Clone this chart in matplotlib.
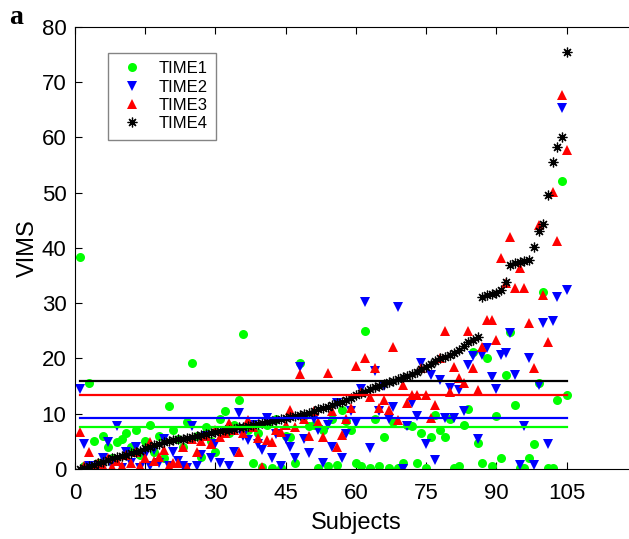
import numpy as np
import matplotlib.pyplot as plt

# VIMS scores per subject, four time points
time1 = [38.4, 0.5, 15.5, 5.0, 1.0, 6.0, 4.0, 2.0, 4.9, 5.5,
         6.5, 4.0, 7.0, 2.5, 5.0, 8.0, 3.0, 6.0, 2.0, 11.4,
         7.0, 5.5, 3.9, 8.5, 19.1, 6.0, 2.2, 7.5, 5.0, 3.0,
         9.0, 10.4, 6.5, 8.0, 12.4, 24.4, 7.0, 1.0, 6.5, 0.3,
         8.0, 0.2, 9.0, 0.2, 6.0, 5.8, 1.1, 19.2, 9.5, 7.7,
         8.0, 0.2, 7.0, 0.5, 9.0, 0.8, 10.7, 8.6, 7.0, 1.1,
         0.5, 25.0, 0.2, 9.0, 0.5, 5.8, 0.2, 8.5, 0.2, 1.0,
         8.0, 7.7, 1.0, 6.5, 0.2, 5.8, 9.8, 7.0, 5.8, 9.0,
         0.2, 0.5, 8.0, 10.8, 21.2, 4.7, 1.0, 20.0, 0.5, 9.6,
         1.9, 17.0, 24.8, 11.6, 0.2, 0.2, 1.9, 4.6, 15.6, 32.1,
         0.2, 0.2, 12.4, 52.1, 13.4]
time2 = [14.4, 4.6, 0.5, 0.2, 0.5, 2.0, 4.9, 0.5, 7.7, 0.2,
         3.0, 1.0, 4.0, 0.2, 2.5, 0.5, 3.5, 1.0, 5.5, 0.5,
         3.0, 1.5, 0.5, 0.2, 7.7, 0.5, 2.5, 6.0, 2.0, 4.5,
         1.0, 6.5, 0.5, 3.0, 10.2, 6.0, 5.2, 8.0, 4.5, 3.4,
         9.2, 2.0, 6.4, 0.5, 5.5, 4.0, 1.9, 18.4, 5.5, 2.8,
         9.0, 7.0, 1.0, 8.0, 4.0, 12.0, 1.9, 6.4, 10.4, 8.3,
         14.5, 30.3, 3.7, 17.8, 10.4, 15.0, 9.0, 11.3, 29.4, 0.0,
         7.7, 12.0, 9.5, 19.1, 4.6, 17.0, 1.6, 16.1, 9.2, 14.6,
         9.2, 14.3, 10.4, 18.8, 20.4, 5.5, 20.7, 21.8, 16.7, 14.4,
         20.6, 20.9, 24.6, 17.0, 0.7, 7.7, 20.0, 0.7, 15.2, 26.4,
         4.6, 26.7, 31.2, 65.4, 32.4]
time3 = [6.75, 0.5, 3.0, 0.2, 1.0, 0.5, 2.0, 0.3, 1.5, 0.5,
         2.5, 1.0, 3.0, 0.5, 2.0, 4.9, 1.5, 2.2, 3.5, 0.5,
         1.0, 1.0, 4.0, 0.4, 5.5, 3.0, 5.0, 6.0, 4.5, 7.0,
         5.7, 6.5, 8.3, 7.0, 3.0, 6.5, 8.9, 7.5, 5.6, 0.4,
         5.3, 4.9, 7.0, 6.75, 8.0, 10.7, 7.5, 17.2, 9.0, 6.0,
         10.4, 8.5, 5.8, 17.3, 10.4, 4.0, 6.2, 9.0, 11.0, 18.6,
         14.0, 20.0, 13.0, 18.2, 11.0, 12.5, 10.7, 22.1, 8.9, 15.2,
         11.9, 13.4, 13.4, 18.3, 13.4, 9.2, 11.6, 20.0, 24.9, 14.0,
         18.5, 16.4, 15.5, 24.9, 18.2, 14.3, 22.1, 27.0, 27.0, 23.3,
         38.2, 33.6, 42.0, 32.7, 36.4, 32.7, 26.4, 18.2, 44.2, 31.5,
         23.0, 50.2, 41.3, 67.7, 57.7]
time4 = [0.0, 0.2, 0.5, 0.8, 1.0,
         1.3, 1.6, 2.0, 2.2, 2.4, 2.6, 2.8, 3.0, 3.3, 3.7,
         4.0, 4.3, 4.6, 4.9, 5.0, 5.2, 5.4, 5.5, 5.6, 5.8, 6.0, 6.2, 6.3, 6.5, 6.6,
         6.8, 7.0, 7.1, 7.3, 7.5, 7.6, 7.8, 8.0, 8.1, 8.3, 8.5, 8.6, 8.8, 9.0, 9.2,
         9.4, 9.6, 9.8, 10.0, 10.2, 10.5, 10.8, 11.0, 11.3, 11.6, 11.9, 12.2, 12.5, 12.9, 13.3,
         13.7, 14.0, 14.4, 14.8, 15.1, 15.4, 15.7, 16.0, 16.3, 16.6, 16.9, 17.2, 17.6, 18.0, 18.5,
         19.0, 19.5, 20.0, 20.3, 20.6, 21.0, 21.5, 22.3, 22.9, 23.4, 23.9,
         31.2, 31.4, 31.6, 31.8, 32.3, 33.8,
         37.0, 37.2, 37.4, 37.6, 37.9, 40.1, 43.1, 44.3,
         49.6, 55.6, 58.2, 60.0, 75.4]

labels = ['TIME1', 'TIME2', 'TIME3', 'TIME4']
x_ticks = [0, 15, 30, 45, 60, 75, 90, 105]

subjects = np.arange(1, len(time4) + 1)

fig = plt.figure(figsize=(6.29, 5.39), dpi=100)
# axes run a little past the right edge of the picture, as in the original
ax = fig.add_axes([0.119, 0.130, 0.8935, 0.820])

styles = [('o', (0, 1, 0), 6.5), ('v', (0, 0, 1), 7.5),
          ('^', (1, 0, 0), 7.5), ('*', 'k', 7)]
series = [time1, time2, time3, time4]

for data, lab, (m, c, ms) in zip(series, labels, styles):
    if m == '*':
        ax.plot(subjects, data, linestyle='none', marker=(8, 2, 0), color=c,
                markersize=ms, markeredgewidth=0.9, label=lab)
    else:
        ax.plot(subjects, data, linestyle='none', marker=m, color=c,
                markersize=ms, markeredgewidth=0, label=lab)

# mean level of each time point
for data, (m, c, ms) in zip(series, styles):
    ax.plot([subjects[0], subjects[-1]], [np.mean(data)] * 2, color=c, lw=1.6)

ax.set_xlim(0, 120)
ax.set_ylim(0, 80)
ax.set_xticks(x_ticks)
ax.set_yticks(range(0, 81, 10))
ax.tick_params(direction='in', top=True, right=True, length=5, labelsize=16)
ax.tick_params(axis='x', pad=10)
ax.tick_params(axis='y', pad=6)
for lbl in ax.get_xticklabels() + ax.get_yticklabels():
    lbl.set_family('Liberation Sans')
ax.set_xlabel('Subjects', fontsize=17, family='Liberation Sans', labelpad=6)
ax.set_ylabel('VIMS', fontsize=17, family='Liberation Sans', labelpad=2)

leg = ax.legend(loc='upper left', bbox_to_anchor=(0.045, 0.96), fancybox=False,
                edgecolor='0.4', handletextpad=0.7,
                labelspacing=0.2, borderpad=0.5, handlelength=1.8,
                prop={'family': 'Liberation Sans', 'size': 12})
leg.get_frame().set_linewidth(1.0)

fig.text(0.015, 0.955, 'a', fontsize=20, fontweight='bold',
         family='Liberation Serif')

fig.savefig('out.png', dpi=100)
